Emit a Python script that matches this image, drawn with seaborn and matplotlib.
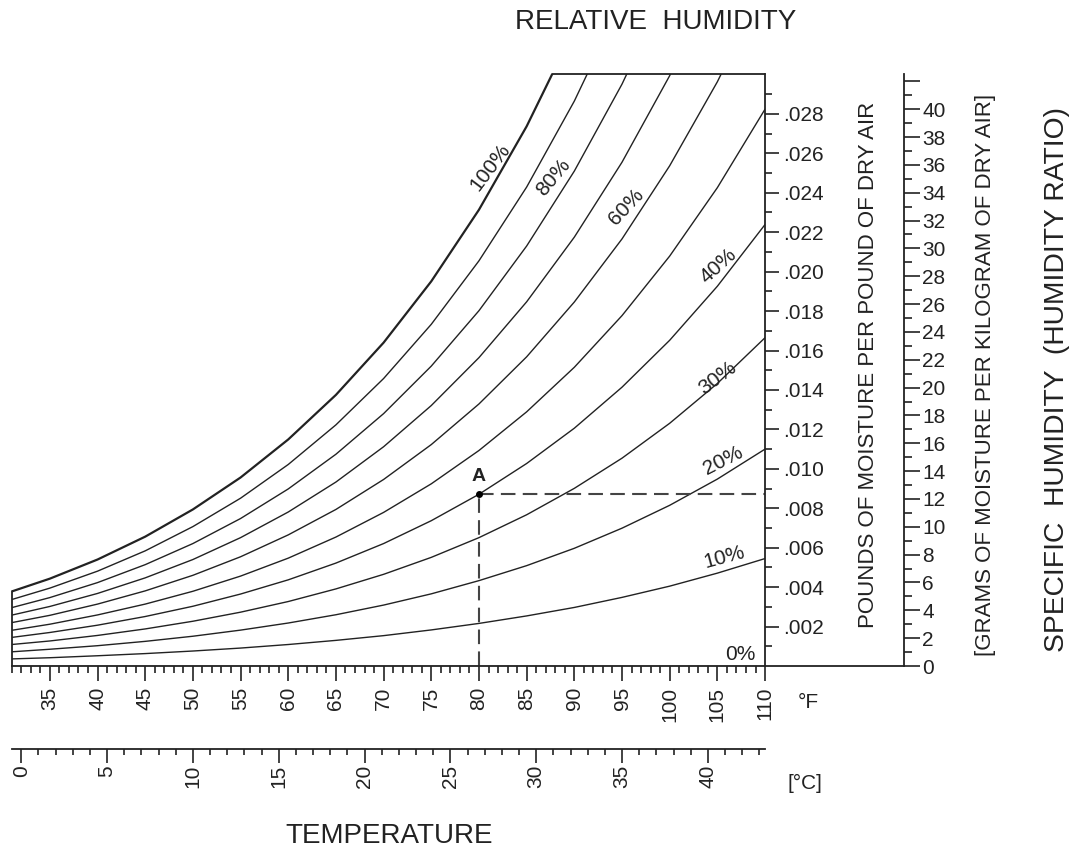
import numpy as np
import pandas as pd
import matplotlib

matplotlib.use("Agg")
import matplotlib.pyplot as plt
import matplotlib.ticker as mticker
import seaborn as sns

sns.set_style("white")
plt.rcParams["font.family"] = ["Liberation Sans", "DejaVu Sans"]

#%% values
# dry-bulb temperature, deg F
temp_f = [31, 35, 40, 45, 50, 55, 60, 65, 70, 75, 80, 85, 90, 95, 100, 105, 110]

# humidity ratio (lb moisture / lb dry air) along each relative humidity curve
rh_100 = [.00378, .00443, .00540, .00656, .00794, .00956, .01149, .01375, .01640, .01951, .02314, .02737, .03231]
rh_90 = [.00337, .00395, .00481, .00584, .00707, .00851, .01022, .01223, .01458, .01733, .02055, .02429, .02865, .03372]
rh_80 = [.00296, .00347, .00423, .00514, .00621, .00748, .00898, .01074, .01280, .01521, .01802, .02130, .02510, .02951, .03462]
rh_70 = [.00258, .00302, .00368, .00447, .00540, .00651, .00781, .00933, .01112, .01321, .01564, .01847, .02175, .02555, .02994, .03502]
rh_60 = [.00220, .00257, .00314, .00381, .00460, .00554, .00665, .00794, .00946, .01123, .01329, .01568, .01846, .02166, .02537, .02963, .03455]
rh_50 = [.00181, .00212, .00259, .00314, .00379, .00456, .00547, .00654, .00779, .00924, .01093, .01289, .01515, .01777, .02079, .02426, .02824]
rh_40 = [.00145, .00170, .00207, .00251, .00303, .00365, .00437, .00522, .00621, .00737, .00871, .01027, .01206, .01414, .01652, .01926, .02239]
rh_30 = [.00109, .00127, .00155, .00188, .00227, .00273, .00327, .00391, .00465, .00551, .00651, .00767, .00901, .01054, .01231, .01433, .01665]
rh_20 = [.00072, .00085, .00103, .00125, .00151, .00182, .00218, .00260, .00309, .00366, .00433, .00509, .00597, .00699, .00815, .00948, .01100]
rh_10 = [.00036, .00042, .00052, .00063, .00076, .00091, .00109, .00130, .00154, .00183, .00216, .00254, .00297, .00348, .00405, .00471, .00545]
rh_0 = [0] * len(temp_f)

curves = {100: rh_100, 90: rh_90, 80: rh_80, 70: rh_70, 60: rh_60, 50: rh_50,
          40: rh_40, 30: rh_30, 20: rh_20, 10: rh_10, 0: rh_0}

# point A
point_a_f = 80
point_a_w = 0.0087

# curve labels
rh_label_text = ["100%", "80%", "60%", "40%", "30%", "20%", "10%", "0%"]
rh_label_f = [81.2, 87.8, 95.5, 105.1, 105.0, 105.6, 105.7, 107.4]
rh_label_w = [.0253, .0248, .0233, .0203, .0146, .0104, .0055, .0006]
rh_label_rot = [53, 50, 47, 42, 37, 27, 15, 0]

# grams per kilogram scale: the 40 g/kg mark sits at about .02824 lb/lb
g_per_lb = 40 / 0.02824

rows = []
for rh, vals in curves.items():
    for t, w in zip(temp_f, vals):
        rows.append((rh, t, w))
df = pd.DataFrame(rows, columns=["rh", "temp_f", "w"])

#%%
ink = "#222222"
fig = plt.figure(figsize=(10.73, 8.52), dpi=100)
ax = fig.add_axes([0.0109, 0.2183, 0.7021, 0.6943])

sns.lineplot(data=df[df.rh < 100], x="temp_f", y="w", units="rh", estimator=None,
             color=ink, lw=1.0, sort=False, ax=ax)
sns.lineplot(data=df[df.rh == 100], x="temp_f", y="w", estimator=None,
             color=ink, lw=1.6, sort=False, ax=ax)

ax.set_xlim(temp_f[0], 110)
ax.set_ylim(0, 0.030)
ax.set_xlabel("")
ax.set_ylabel("")

# chart outline: left side up to saturation, top from saturation curve
ax.plot([temp_f[0], temp_f[0]], [0, rh_100[0]], color=ink, lw=1.3, clip_on=False)
x_top = np.interp(0.030, rh_100, temp_f[:len(rh_100)])
ax.plot([x_top, 110], [0.030, 0.030], color=ink, lw=1.3, clip_on=False)
for s in ["left", "top"]:
    ax.spines[s].set_visible(False)
for s in ["right", "bottom"]:
    ax.spines[s].set_color(ink)
    ax.spines[s].set_linewidth(1.3)

# baseline continues to the g/kg scale
g_loc = 1.1845
ax.plot([1, g_loc], [0, 0], transform=ax.transAxes, color=ink, lw=1.3, clip_on=False)

# point A with dashed guides
dash = dict(color="#444444", lw=1.5, ls=(0, (7, 3.5)))
ax.plot([point_a_f, point_a_f], [0, point_a_w], **dash)
ax.plot([point_a_f, 110], [point_a_w, point_a_w], **dash)
ax.plot([point_a_f], [point_a_w], "o", color="black", ms=4)
ax.text(point_a_f, point_a_w + 0.0009, "A", ha="center", va="center",
        fontsize=14, fontweight="bold", color=ink)

for txt, tf, tw, rot in zip(rh_label_text, rh_label_f, rh_label_w, rh_label_rot):
    ax.text(tf, tw, txt, rotation=rot, rotation_mode="anchor", ha="center",
            va="center", fontsize=15, color=ink)

# Fahrenheit axis
ax.xaxis.set_minor_locator(mticker.MultipleLocator(1))
ax.set_xticks([t for t in range(35, 111, 5)])
ax.tick_params(axis="x", which="major", direction="out", length=10.8, width=1.2,
               pad=4, labelsize=15, labelrotation=90, color=ink, labelcolor=ink, bottom=True)
ax.tick_params(axis="x", which="minor", direction="out", length=5, width=1.2,
               color=ink, bottom=True)

# pounds per pound axis on the right
ax.yaxis.tick_right()
ax.set_yticks(np.arange(0.002, 0.0285, 0.002))
ax.yaxis.set_minor_locator(mticker.FixedLocator(np.arange(0.001, 0.0295, 0.001)))
ax.yaxis.set_major_formatter(mticker.FuncFormatter(lambda v, p: f"{v:.3f}".lstrip("0")))
ax.tick_params(axis="y", which="major", direction="out", length=10, width=1.2, pad=2.7,
               labelsize=15, color=ink, labelcolor=ink, right=True, left=False)
ax.tick_params(axis="y", which="minor", direction="out", length=5, width=1.2,
               color=ink, right=True, left=False)

# Celsius axis below
secx = ax.secondary_xaxis(-0.1403, functions=(lambda f: (f - 32) / 1.8, lambda c: c * 1.8 + 32))
secx.set_xticks(range(0, 41, 5))
secx.xaxis.set_minor_locator(mticker.MultipleLocator(1))
secx.spines["bottom"].set_color(ink)
secx.spines["bottom"].set_linewidth(1.3)
secx.tick_params(axis="x", which="major", direction="out", length=10, width=1.2, pad=1.5,
                 labelsize=15, labelrotation=90, color=ink, labelcolor=ink)
secx.tick_params(axis="x", which="minor", direction="out", length=4.3, width=1.2, color=ink)

# grams per kilogram axis
secy = ax.secondary_yaxis(g_loc, functions=(lambda w: w * g_per_lb, lambda g: g / g_per_lb))
secy.set_yticks(range(0, 43, 2))
secy.set_yticklabels([str(v) if v <= 40 else "" for v in range(0, 43, 2)])
secy.yaxis.set_minor_locator(mticker.MultipleLocator(1))
secy.spines["right"].set_color(ink)
secy.spines["right"].set_linewidth(1.3)
secy.tick_params(axis="y", which="major", direction="out", length=11.5, width=1.2, pad=1.5,
                 labelsize=15, color=ink, labelcolor=ink)
secy.tick_params(axis="y", which="minor", direction="out", length=5.8, width=1.2, color=ink)

# titles
W, H = 1073, 852
fig.text(656 / W, 1 - 22 / H, "RELATIVE  HUMIDITY", ha="center", va="center", fontsize=20, color=ink)
fig.text(389 / W, 1 - 836 / H, "TEMPERATURE", ha="center", va="center", fontsize=20, color=ink)
fig.text(808 / W, 1 - 703 / H, "°F", ha="center", va="center", fontsize=15, color=ink)
fig.text(805 / W, 1 - 783 / H, "[°C]", ha="center", va="center", fontsize=15, color=ink)
fig.text(869 / W, 1 - 365 / H, "POUNDS OF MOISTURE PER POUND OF DRY AIR", rotation=90,
         ha="center", va="center", fontsize=16, color=ink)
fig.text(985 / W, 1 - 375 / H, "[GRAMS OF MOISTURE PER KILOGRAM OF DRY AIR]", rotation=90,
         ha="center", va="center", fontsize=16, color=ink)
fig.text(1057 / W, 1 - 379 / H, "SPECIFIC  HUMIDITY  (HUMIDITY RATIO)", rotation=90,
         ha="center", va="center", fontsize=20.3, color=ink)

plt.savefig("out.png", dpi=100)
